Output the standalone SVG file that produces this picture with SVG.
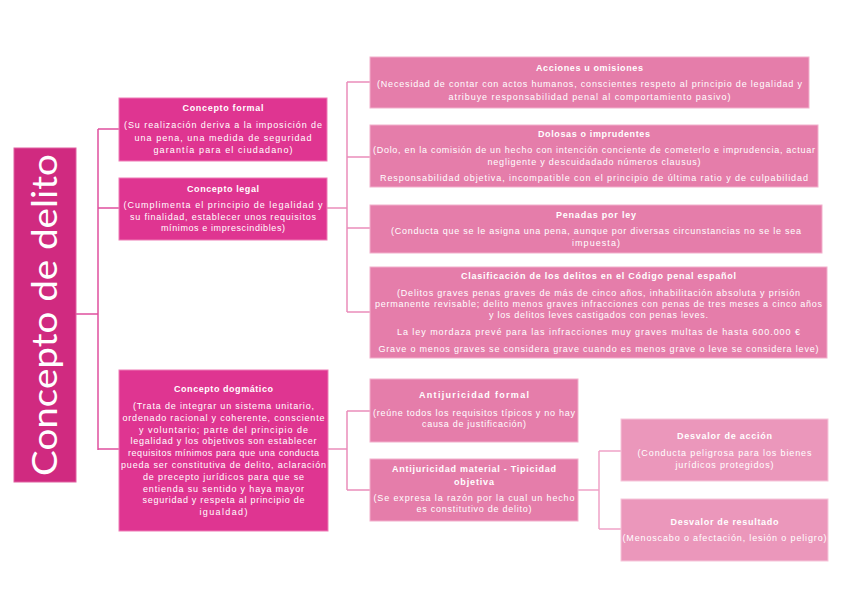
<svg xmlns="http://www.w3.org/2000/svg" width="848" height="599" viewBox="0 0 848 599">
<style>
.bg{fill:#ffffff}
.main{fill:#D02A80;stroke:#E060A0;stroke-width:1}
.l1{fill:#DF3591;stroke:#EE7CB5;stroke-width:1}
.l2{fill:#E57DAA;stroke:#F2B0CC;stroke-width:1}
.l3{fill:#EB97BB;stroke:#F6C6DA;stroke-width:1}
text{font-family:"Liberation Sans","Noto Sans",sans-serif;fill:#ffffff;text-anchor:middle}
.t{font-size:9px;font-weight:bold}
.b{font-size:9px}
.big{font-family:"Lato","Liberation Sans",sans-serif;font-size:35px}
.c1{stroke:#E0509E;stroke-width:1.5;fill:none}
.c2{stroke:#EA8DBA;stroke-width:1.5;fill:none}
.c3{stroke:#EFA3C7;stroke-width:1.5;fill:none}
</style>
<rect class="bg" x="0" y="0" width="848" height="599"/>
<g id="connectors">
<path class="c1" d="M76 314H98M98 129V450M98 129H119M98 208H119M98 449H119"/>
<path class="c2" d="M327 208H347M347 82V312M347 82H370M347 157H370M347 228H370M347 312H370"/>
<path class="c2" d="M328 449H347M347 411V490M347 411H370M347 490H370"/>
<path class="c3" d="M578 490H599M599 451V529M599 451H621M599 529H621"/>
</g>
<g id="concepto-delito">
<rect class="main" x="14" y="148" width="62" height="334"/>
<text class="big" transform="translate(57 315) rotate(-90)" textLength="322" lengthAdjust="spacingAndGlyphs">Concepto de delito</text>
</g>
<g id="concepto-formal">
<rect class="l1" x="119" y="98" width="208" height="63"/>
<text class="t" x="223" y="111" textLength="81">Concepto formal</text>
<text class="b" x="223" y="128" textLength="198">(Su realización deriva a la imposición de</text>
<text class="b" x="223" y="140.5" textLength="177">una pena, una medida de seguridad</text>
<text class="b" x="223" y="153" textLength="139">garantía para el ciudadano)</text>
</g>
<g id="concepto-legal">
<rect class="l1" x="119" y="178" width="208" height="62"/>
<text class="t" x="223" y="192" textLength="72">Concepto legal</text>
<text class="b" x="223" y="208" textLength="199">(Cumplimenta el principio de legalidad y</text>
<text class="b" x="223" y="219.5" textLength="186">su finalidad, establecer unos requisitos</text>
<text class="b" x="223" y="231" textLength="124">mínimos e imprescindibles)</text>
</g>
<g id="concepto-dogmatico">
<rect class="l1" x="119" y="370" width="209" height="161"/>
<text class="t" x="223.5" y="392" textLength="99">Concepto dogmático</text>
<text class="b" x="223.5" y="409" textLength="181">(Trata de integrar un sistema unitario,</text>
<text class="b" x="223.5" y="420.8" textLength="202">ordenado racional y coherente, consciente</text>
<text class="b" x="223.5" y="432.6" textLength="169">y voluntario; parte del principio de</text>
<text class="b" x="223.5" y="444.4" textLength="186">legalidad y los objetivos son establecer</text>
<text class="b" x="223.5" y="456.2" textLength="191">requisitos mínimos para que una conducta</text>
<text class="b" x="223.5" y="468" textLength="205">pueda ser constitutiva de delito, aclaración</text>
<text class="b" x="223.5" y="479.8" textLength="161">de precepto jurídicos para que se</text>
<text class="b" x="223.5" y="491.6" textLength="161">entienda su sentido y haya mayor</text>
<text class="b" x="223.5" y="503.4" textLength="162">seguridad y respeta al principio de</text>
<text class="b" x="223.5" y="515.2" textLength="48">igualdad)</text>
</g>
<g id="acciones-omisiones">
<rect class="l2" x="370" y="57" width="439" height="51"/>
<text class="t" x="589.5" y="71" textLength="107">Acciones u omisiones</text>
<text class="b" x="589.5" y="87" textLength="425">(Necesidad de contar con actos humanos, conscientes respeto al principio de legalidad y</text>
<text class="b" x="589.5" y="100" textLength="282">atribuye responsabilidad penal al comportamiento pasivo)</text>
</g>
<g id="dolosas-imprudentes">
<rect class="l2" x="370" y="125" width="448" height="62"/>
<text class="t" x="594" y="137" textLength="112">Dolosas o imprudentes</text>
<text class="b" x="594" y="153" textLength="442">(Dolo, en la comisión de un hecho con intención conciente de cometerlo e imprudencia, actuar</text>
<text class="b" x="594" y="165" textLength="213">negligente y descuidadado números clausus)</text>
<text class="b" x="594" y="181" textLength="428">Responsabilidad objetiva, incompatible con el principio de última ratio y de culpabilidad</text>
</g>
<g id="penadas-ley">
<rect class="l2" x="370" y="205" width="452" height="48"/>
<text class="t" x="596" y="218" textLength="80">Penadas por ley</text>
<text class="b" x="596" y="234" textLength="410">(Conducta que se le asigna una pena, aunque por diversas circunstancias no se le sea</text>
<text class="b" x="596" y="246" textLength="48">impuesta)</text>
</g>
<g id="clasificacion">
<rect class="l2" x="370" y="267" width="457" height="91"/>
<text class="t" x="598.5" y="279" textLength="275">Clasificación de los delitos en el Código penal español</text>
<text class="b" x="598.5" y="296" textLength="403">(Delitos graves penas graves de más de cinco años, inhabilitación absoluta y prisión</text>
<text class="b" x="598.5" y="307" textLength="447">permanente revisable; delito menos graves infracciones con penas de tres meses a cinco años</text>
<text class="b" x="598.5" y="318" textLength="219">y los delitos leves castigados con penas leves.</text>
<text class="b" x="598.5" y="335" textLength="403">La ley mordaza prevé para las infracciones muy graves multas de hasta 600.000 €</text>
<text class="b" x="598.5" y="352" textLength="440">Grave o menos graves se considera grave cuando es menos grave o leve se considera leve)</text>
</g>
<g id="antijuricidad-formal">
<rect class="l2" x="370" y="379" width="208" height="63"/>
<text class="t" x="474" y="398" textLength="110">Antijuricidad formal</text>
<text class="b" x="474" y="416" textLength="202">(reúne todos los requisitos típicos y no hay</text>
<text class="b" x="474" y="427" textLength="104">causa de justificación)</text>
</g>
<g id="antijuricidad-material">
<rect class="l2" x="370" y="459" width="208" height="62"/>
<text class="t" x="474" y="472" textLength="164">Antijuricidad material - Tipicidad</text>
<text class="t" x="474" y="485" textLength="40">objetiva</text>
<text class="b" x="474" y="501" textLength="201">(Se expresa la razón por la cual un hecho</text>
<text class="b" x="474" y="512" textLength="115">es constitutivo de delito)</text>
</g>
<g id="desvalor-accion">
<rect class="l3" x="621" y="419" width="207" height="62"/>
<text class="t" x="724.5" y="439" textLength="95">Desvalor de acción</text>
<text class="b" x="724.5" y="456" textLength="174">(Conducta peligrosa para los bienes</text>
<text class="b" x="724.5" y="468" textLength="98">jurídicos protegidos)</text>
</g>
<g id="desvalor-resultado">
<rect class="l3" x="621" y="499" width="207" height="62"/>
<text class="t" x="724.5" y="525" textLength="108">Desvalor de resultado</text>
<text class="b" x="724.5" y="541" textLength="204">(Menoscabo o afectación, lesión o peligro)</text>
</g>
</svg>
